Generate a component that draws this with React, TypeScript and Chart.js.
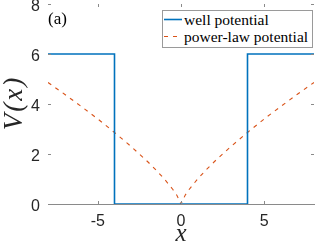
import React, { useEffect, useRef } from "react";
import { Chart, registerables } from "chart.js";

Chart.register(...registerables);

const wellX = [-8, -4, -4, 4, 4, 8];
const wellY = [6, 6, 0, 0, 6, 6];

const powerX = [-8, -7, -6, -5, -4, -3, -2, -1.5, -1, -0.5, -0.25, 0, 0.25, 0.5, 1, 1.5, 2, 3, 4, 5, 6, 7, 8];
const powerY = [4.86, 4.39, 3.9, 3.4, 2.86, 2.3, 1.69, 1.36, 1.0, 0.59, 0.35, 0, 0.35, 0.59, 1.0, 1.36, 1.69, 2.3, 2.86, 3.4, 3.9, 4.39, 4.86];

const xTicks = [-5, 0, 5];
const yTicks = [0, 2, 4, 6, 8];

const legendLabels = ["well potential", "power-law potential"];
const panelLabel = "(a)";
const xTitle = "x";
const yTitle = "V(x)";

const BLUE = "#0072BD";
const ORANGE = "#D95319";

const inwardTicks = {
  id: "inwardTicks",
  afterDraw(chart: any) {
    const { ctx, chartArea, scales } = chart;
    const L = 3;
    ctx.save();
    ctx.strokeStyle = "#8a8a8a";
    ctx.lineWidth = 1;
    ctx.beginPath();
    for (const v of yTicks) {
      const y = Math.round(scales.y.getPixelForValue(v)) + 0.5;
      ctx.moveTo(chartArea.left, y);
      ctx.lineTo(chartArea.left + L, y);
      ctx.moveTo(chartArea.right, y);
      ctx.lineTo(chartArea.right - L, y);
    }
    for (const v of xTicks) {
      const x = Math.round(scales.x.getPixelForValue(v)) + 0.5;
      ctx.moveTo(x, chartArea.bottom);
      ctx.lineTo(x, chartArea.bottom - L);
      ctx.moveTo(x, chartArea.top);
      ctx.lineTo(x, chartArea.top + L);
    }
    ctx.stroke();
    ctx.restore();
  },
};

export default function App() {
  const ref = useRef<HTMLCanvasElement | null>(null);

  useEffect(() => {
    if (!ref.current) return;
    const chart = new Chart(ref.current, {
      type: "scatter",
      data: {
        datasets: [
          {
            label: legendLabels[0],
            data: wellX.map((x, i) => ({ x, y: wellY[i] })),
            showLine: true,
            borderColor: BLUE,
            backgroundColor: BLUE,
            borderWidth: 1.6,
            pointRadius: 0,
            tension: 0,
          },
          {
            label: legendLabels[1],
            data: powerX.map((x, i) => ({ x, y: powerY[i] })),
            showLine: true,
            borderColor: ORANGE,
            backgroundColor: ORANGE,
            borderWidth: 1.1,
            borderDash: [4, 5],
            pointRadius: 0,
            tension: 0,
          },
        ],
      },
      options: {
        animation: false,
        responsive: false,
        devicePixelRatio: 1,
        layout: { padding: { left: 0, right: 9, top: 4, bottom: 0 } },
        plugins: { legend: { display: false }, tooltip: { enabled: false } },
        scales: {
          x: {
            type: "linear",
            min: -8,
            max: 8,
            afterBuildTicks: (s: any) => {
              s.ticks = xTicks.map((v) => ({ value: v }));
            },
            afterFit: (s: any) => {
              s.height = 38;
              s.paddingLeft = 0;
              s.paddingRight = 0;
            },
            grid: { display: false, drawTicks: false },
            border: { display: true, color: "#8a8a8a", width: 1 },
            ticks: {
              padding: 8,
              color: "#262626",
              font: { family: "'Liberation Sans', Arial, sans-serif", size: 16 },
              callback: (v: any) => String(v),
            },
          },
          y: {
            type: "linear",
            min: 0,
            max: 8,
            afterBuildTicks: (s: any) => {
              s.ticks = yTicks.map((v) => ({ value: v }));
            },
            afterFit: (s: any) => {
              s.width = 48;
              s.paddingTop = 0;
              s.paddingBottom = 0;
            },
            grid: { display: false, drawTicks: false },
            border: { display: false },
            ticks: {
              padding: 8,
              labelOffset: 3,
              color: "#262626",
              font: { family: "'Liberation Sans', Arial, sans-serif", size: 16 },
              callback: (v: any) => String(v),
            },
          },
        },
      },
      plugins: [inwardTicks],
    });
    return () => chart.destroy();
  }, []);

  const serif = "'Liberation Serif', 'Times New Roman', serif";

  return (
    <div style={{ position: "fixed", left: 0, top: 0, width: 323, height: 242, background: "#fff", overflow: "hidden" }}>
      <canvas ref={ref} width={323} height={242} style={{ display: "block", width: 323, height: 242 }} />
      <div
        style={{
          position: "absolute",
          left: 13,
          top: 103,
          transform: "translate(-50%, -50%) rotate(-90deg)",
          fontFamily: serif,
          fontSize: 27,
          fontStyle: "italic",
          lineHeight: "27px",
          letterSpacing: 2,
          whiteSpace: "nowrap",
          color: "#262626",
        }}
      >
        {yTitle}
      </div>
      <div
        style={{
          position: "absolute",
          left: 181,
          top: 220,
          transform: "translateX(-50%)",
          fontFamily: serif,
          fontSize: 25,
          fontStyle: "italic",
          lineHeight: "25px",
          whiteSpace: "nowrap",
          color: "#262626",
        }}
      >
        {xTitle}
      </div>
      <div style={{ position: "absolute", left: 48, top: 8, fontFamily: serif, fontSize: 17, lineHeight: "22px", color: "#000" }}>
        {panelLabel}
      </div>
      <div
        style={{
          position: "absolute",
          left: 162,
          top: 10,
          width: 149,
          height: 36,
          border: "1px solid #9a9a9a",
          background: "#fff",
          fontFamily: serif,
          fontSize: 15.5,
          color: "#000",
        }}
      >
        <svg width={20} height={36} style={{ position: "absolute", left: 0, top: 0 }}>
          <line x1={1} y1={8.5} x2={19} y2={8.5} stroke={BLUE} strokeWidth={1.6} />
          <line x1={1} y1={25.5} x2={19} y2={25.5} stroke={ORANGE} strokeWidth={1.1} strokeDasharray="4 5" />
        </svg>
        <div style={{ position: "absolute", left: 21, top: -1, lineHeight: "19px", whiteSpace: "nowrap" }}>{legendLabels[0]}</div>
        <div style={{ position: "absolute", left: 21, top: 16, lineHeight: "19px", whiteSpace: "nowrap" }}>{legendLabels[1]}</div>
      </div>
    </div>
  );
}
